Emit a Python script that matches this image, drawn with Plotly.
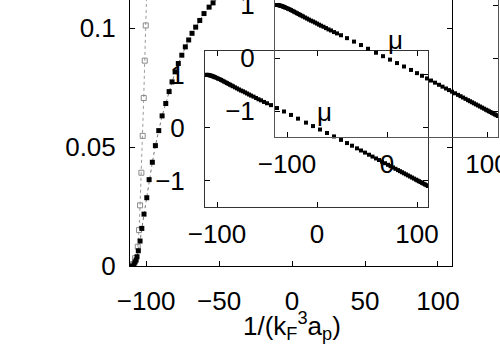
import plotly.graph_objects as go

# main panel: filled squares (upper curve)
main_x = [-109.6, -108.2, -107.5, -106.8, -106.2, -105.3, -104.1, -102.9, -101.4, -99.5,
          -97.9, -95.7, -93.6, -91.3, -89.0, -86.5, -84.2, -82.2, -80.1, -77.9,
          -75.5, -73.1, -70.8, -68.5, -66.0, -63.2, -60.3, -56.8, -54.1, -50.5, -46.0]
main_y = [0.0, 0.0008, 0.0017, 0.0025, 0.0039, 0.0064, 0.0105, 0.0158, 0.0218, 0.0287,
          0.0363, 0.0436, 0.0506, 0.0569, 0.0631, 0.0683, 0.0733, 0.0774, 0.0816, 0.0851,
          0.0886, 0.0921, 0.0950, 0.0978, 0.1004, 0.1032, 0.1061, 0.1088, 0.1106, 0.1130, 0.1155]

# main panel: open squares (steep curve)
open_x = [-108.9, -107.5, -105.7, -104.8, -104.1, -103.2, -102.3, -101.6, -100.9, -100.2, -99.5]
open_y = [0.0008, 0.0033, 0.0081, 0.0151, 0.0255, 0.0392, 0.0547, 0.0706, 0.0863, 0.1011, 0.1165]

# inset: mu versus 1/(kF^3 ap)
mu_x = [-111, -110, -109, -108, -107, -106, -105, -104, -103, -102,
        -100.5, -99, -97.5, -96, -94.5, -93, -91.5, -90, -88.5, -87,
        -85.5, -84, -82, -80, -78, -76, -74, -72, -70, -68,
        -66, -63.5, -61, -58.5, -56, -53, -50, -46, -40, -33,
        -26, -19, -11, -4, 3, 10, 17, 24, 30, 35,
        40, 44, 48, 52, 55.5, 59, 62, 65, 68, 71,
        73.5, 76, 78.5, 81, 83, 85, 87, 89, 91, 93,
        95, 97, 99, 100.5, 102, 103.5, 105, 106.5, 108, 109.5, 111]
mu_y = [1.00, 1.00, 1.00, 0.995, 0.99, 0.985, 0.98, 0.97, 0.965, 0.955,
        0.945, 0.93, 0.92, 0.905, 0.89, 0.875, 0.86, 0.845, 0.83, 0.815,
        0.80, 0.785, 0.765, 0.745, 0.725, 0.705, 0.69, 0.67, 0.65, 0.63,
        0.61, 0.59, 0.565, 0.54, 0.52, 0.49, 0.465, 0.43, 0.375, 0.31,
        0.245, 0.175, 0.10, 0.035, -0.03, -0.095, -0.16, -0.225, -0.285, -0.335,
        -0.385, -0.425, -0.465, -0.505, -0.54, -0.575, -0.605, -0.635, -0.665, -0.695,
        -0.72, -0.745, -0.77, -0.795, -0.815, -0.835, -0.855, -0.875, -0.895, -0.915,
        -0.935, -0.955, -0.975, -0.99, -1.005, -1.02, -1.035, -1.05, -1.065, -1.08, -1.095]

main_xticks = [-100, -50, 0, 50, 100]
main_yticks = [0, 0.05, 0.1]
main_yticktext = ["0", "0.05", "0.1"]
inset_xticks = [-100, 0, 100]
inset_yticks = [-1, 0, 1]

FONT = "Liberation Sans, Arial, sans-serif"
tickfont = dict(family=FONT, size=26, color="black")

fig = go.Figure()
fig.add_trace(go.Scatter(x=open_x, y=open_y, mode="lines+markers",
                         line=dict(color="#9a9a9a", width=1, dash="dot"),
                         marker=dict(symbol="square-open", size=5, color="#8a8a8a", line=dict(width=1))))
fig.add_trace(go.Scatter(x=main_x, y=main_y, mode="lines+markers",
                         line=dict(color="#777777", width=1, dash="dot"),
                         marker=dict(symbol="square", size=5, color="black")))
for xa, ya in (("x2", "y2"), ("x3", "y3")):
    fig.add_trace(go.Scatter(x=mu_x, y=mu_y, mode="markers", xaxis=xa, yaxis=ya,
                             marker=dict(symbol="square", size=4, color="black", line=dict(width=0))))

ax_common = dict(showgrid=False, zeroline=False, showline=True, linecolor="black", linewidth=1,
                 ticks="inside", ticklen=5, tickwidth=1, tickcolor="black", tickfont=tickfont,
                 automargin=False, ticklabeloverflow="allow")

fig.update_layout(
    template="none",
    width=500, height=350,
    margin=dict(l=0, r=0, t=0, b=0, pad=0),
    paper_bgcolor="white", plot_bgcolor="rgba(0,0,0,0)",
    showlegend=False,
    xaxis=dict(ax_common, domain=[0.26, 0.904], range=[-111, 109.6], tickvals=main_xticks,
               mirror=False, anchor="y", ticklabelstandoff=12),
    yaxis=dict(ax_common, domain=[0.24, 1.0], range=[0, 0.1118], tickvals=main_yticks,
               ticktext=main_yticktext, mirror="ticks", anchor="x", ticklabelstandoff=8),
    xaxis2=dict(ax_common, domain=[0.41, 0.856], range=[-112, 111], tickvals=inset_xticks,
                mirror="ticks", anchor="y2", linecolor="#333", ticklabelstandoff=4),
    yaxis2=dict(ax_common, domain=[0.4086, 0.8543], range=[-1.49, 1.45], tickvals=inset_yticks,
                mirror="ticks", anchor="x2", linecolor="#333", ticklabelstandoff=14),
    xaxis3=dict(ax_common, domain=[0.55, 0.996], range=[-112, 111], tickvals=inset_xticks,
                mirror=False, anchor="y3", linecolor="#555", ticklabelstandoff=4),
    yaxis3=dict(ax_common, domain=[0.6086, 1.0], range=[-1.49, 1.095], tickvals=inset_yticks,
                mirror="ticks", anchor="x3", linecolor="#555", ticklabelstandoff=14),
)

mu_font = dict(family=FONT, size=26, color="black")
fig.add_annotation(x=7, y=0.3, xref="x2", yref="y2", text="μ", showarrow=False, font=mu_font)
fig.add_annotation(x=8, y=0.34, xref="x3", yref="y3", text="μ", showarrow=False, font=mu_font)
fig.add_annotation(x=0.584, y=0.012, xref="paper", yref="paper",
                   text="1/(k<sub>F</sub><sup>3</sup>a<sub>p</sub>)", showarrow=False,
                   font=dict(family=FONT, size=26, color="black"))

# drop the default page margin so the figure sits at the window's top-left corner
fig.write_html("out.html", config={"displayModeBar": False},
               post_script="document.body.style.margin='0';")
